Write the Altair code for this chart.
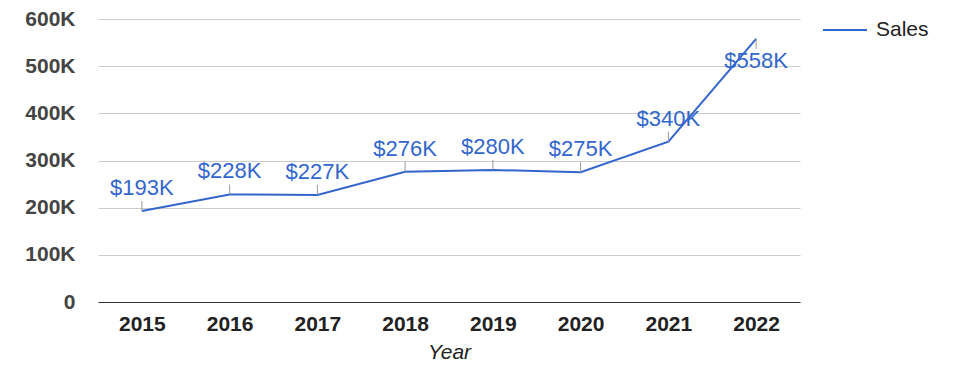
import altair as alt
import pandas as pd

years = ["2015", "2016", "2017", "2018", "2019", "2020", "2021", "2022"]
sales = [193000, 228000, 227000, 276000, 280000, 275000, 340000, 558000]
y_ticks = [0, 50000, 100000, 150000, 200000, 250000, 300000, 350000,
           400000, 450000, 500000, 550000, 600000]

df = pd.DataFrame({"Year": years, "Sales": sales})

FONT = "Liberation Sans, Arial, sans-serif"
BLUE = "#3366cc"

base = alt.Chart(df).transform_fold(["Sales"], as_=["series", "value"])

x_enc = alt.X(
    "Year:O",
    scale=alt.Scale(type="point", padding=0.5),
    axis=alt.Axis(
        title="Year",
        labelAngle=0,
        labelAlign="center",
        labelFont=FONT,
        labelFontSize=21,
        labelFontWeight="bold",
        labelColor="#222222",
        labelPadding=11,
        labelBaseline="top",
        ticks=False,
        domainColor="#333333",
        domainWidth=1,
        grid=False,
        titleFont=FONT,
        titleFontSize=21,
        titleFontStyle="italic",
        titleFontWeight="normal",
        titleColor="#222222",
        titlePadding=7,
    ),
)

y_enc = alt.Y(
    "value:Q",
    scale=alt.Scale(domain=[0, 600000], nice=False, zero=True),
    axis=alt.Axis(
        orient="left",
        values=y_ticks,
        labelExpr="datum.value == 0 ? '0' : (datum.value % 100000 == 0 ? (datum.value / 1000) + 'K' : '')",
        labelFont=FONT,
        labelFontSize=21,
        labelFontWeight="bold",
        labelColor="#444444",
        labelPadding=23,
        labelOverlap=False,
        ticks=False,
        domain=False,
        grid=True,
        gridColor=alt.condition("datum.value % 100000 == 0", alt.value("#cccccc"), alt.value("#ebebeb")),
        gridWidth=1,
        title=None,
    ),
)

line = base.mark_line(strokeWidth=2).encode(
    x=x_enc,
    y=y_enc,
    color=alt.Color(
        "series:N",
        scale=alt.Scale(range=[BLUE]),
        legend=alt.Legend(
            title=None,
            orient="none",
            legendX=724,
            legendY=-12,
            symbolType="stroke",
            symbolSize=1936,
            symbolStrokeWidth=2,
            labelFont=FONT,
            labelFontSize=21,
            labelColor="#222222",
            labelOffset=8,
            padding=0,
        ),
    ),
)

label_text = "'$' + round(datum.value / 1000) + 'K'"

stems_up = base.transform_filter("datum.value < 500000").mark_rule(
    color="#999999", strokeWidth=1, y2Offset=-10
).encode(
    x=alt.X("Year:O"),
    y=alt.Y("value:Q"),
    y2=alt.Y2("value:Q"),
)

stems_down = base.transform_filter("datum.value >= 500000").mark_rule(
    color="#999999", strokeWidth=1, y2Offset=10
).encode(
    x=alt.X("Year:O"),
    y=alt.Y("value:Q"),
    y2=alt.Y2("value:Q"),
)

text_up = base.transform_filter("datum.value < 500000").transform_calculate(
    lab=label_text
).mark_text(
    font=FONT, fontSize=22, color=BLUE, align="center", baseline="alphabetic", dy=-16
).encode(
    x=alt.X("Year:O"),
    y=alt.Y("value:Q"),
    text="lab:N",
)

text_down = base.transform_filter("datum.value >= 500000").transform_calculate(
    lab=label_text
).mark_text(
    font=FONT, fontSize=22, color=BLUE, align="center", baseline="alphabetic", dy=29
).encode(
    x=alt.X("Year:O"),
    y=alt.Y("value:Q"),
    text="lab:N",
)

chart = (
    alt.layer(line, stems_up, stems_down, text_up, text_down)
    .properties(
        width=702,
        height=283,
        autosize=alt.AutoSizeParams(type="none"),
        padding={"left": 98, "top": 19, "right": 175, "bottom": 76},
        background="white",
    )
    .configure_view(stroke=None)
)

chart.save("out.html", embed_options={"renderer": "svg", "actions": False})
